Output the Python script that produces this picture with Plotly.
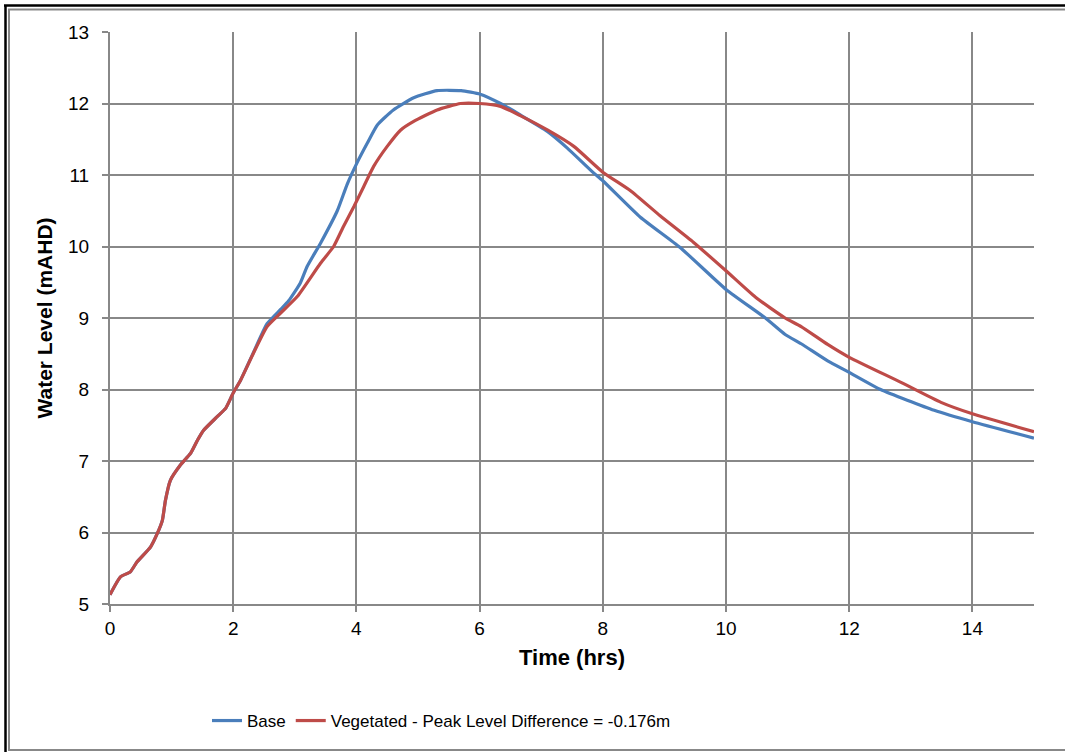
import plotly.graph_objects as go

# ---- data ----
veg_t = [0, 0.17, 0.33, 0.44, 0.66, 0.77, 0.85, 0.90, 0.98, 1.14, 1.31, 1.42, 1.52, 1.74, 1.88,
         2.0, 2.12, 2.33, 2.55, 2.77, 3.04, 3.42, 3.63, 3.79, 3.96, 4.12, 4.28, 4.5, 4.72, 4.93,
         5.31, 5.69, 6.0, 6.34, 6.66, 7.1, 7.53, 8.0, 8.45, 8.93, 9.47, 10.0, 10.48, 10.96,
         11.22, 11.65, 12.0, 12.84, 13.49, 14.0, 15.0]
veg_y = [5.13, 5.38, 5.45, 5.59, 5.80, 5.99, 6.17, 6.45, 6.73, 6.94, 7.11, 7.29, 7.43, 7.62, 7.74,
         7.95, 8.13, 8.51, 8.88, 9.07, 9.30, 9.77, 10.0, 10.28, 10.56, 10.84, 11.12, 11.40, 11.63, 11.75,
         11.91, 12.0, 12.0, 11.96, 11.83, 11.63, 11.40, 11.04, 10.78, 10.43, 10.06, 9.66, 9.29, 9.0,
         8.88, 8.63, 8.45, 8.10, 7.82, 7.66, 7.41]

base_t = [0, 0.17, 0.33, 0.44, 0.66, 0.77, 0.85, 0.90, 0.98, 1.14, 1.31, 1.42, 1.52, 1.74, 1.88,
          2.0, 2.12, 2.33, 2.55, 2.77, 2.9, 3.09, 3.2, 3.42, 3.69, 3.85, 4.01, 4.18, 4.34, 4.6,
          4.93, 5.31, 5.7, 6.01, 6.34, 6.66, 7.1, 7.42, 7.85, 8.0, 8.61, 9.25, 10.0, 10.64, 10.96,
          11.22, 11.65, 12.0, 12.51, 13.38, 14.0, 15.0]
base_y = [5.13, 5.38, 5.45, 5.59, 5.80, 5.99, 6.17, 6.45, 6.73, 6.94, 7.11, 7.29, 7.43, 7.62, 7.74,
          7.95, 8.13, 8.52, 8.92, 9.12, 9.24, 9.49, 9.72, 10.05, 10.50, 10.87, 11.17, 11.45, 11.70, 11.91,
          12.08, 12.18, 12.18, 12.13, 12.0, 11.84, 11.61, 11.38, 11.03, 10.92, 10.41, 9.99, 9.40, 9.0, 8.77,
          8.64, 8.40, 8.24, 8.0, 7.71, 7.55, 7.32]

x_ticks = [0, 2, 4, 6, 8, 10, 12, 14]
y_ticks = [5, 6, 7, 8, 9, 10, 11, 12, 13]

base_name = "Base"
veg_name = "Vegetated - Peak Level Difference = -0.176m"

BLUE = "#4A7EBB"
RED = "#BE4B48"
GRID = "#888888"
FONT = "Liberation Sans, Arial, sans-serif"

W, H = 1065, 752
ML, MR, MT, MB = 110, 31, 32, 148
PW, PH = W - ML - MR, H - MT - MB


def px(x):
    return (x - ML) / PW


def py(y):
    return (H - MB - y) / PH


fig = go.Figure()
fig.add_trace(go.Scatter(x=base_t, y=base_y, mode="lines", name=base_name,
                         line=dict(color=BLUE, width=3.2, shape="spline", smoothing=0.5)))
fig.add_trace(go.Scatter(x=veg_t, y=veg_y, mode="lines", name=veg_name,
                         line=dict(color=RED, width=3.2, shape="spline", smoothing=0.5)))

axis_common = dict(showgrid=True, gridcolor=GRID, gridwidth=2, showline=True, linecolor=GRID,
                   linewidth=2, ticks="outside", ticklen=6, tickwidth=2, tickcolor=GRID,
                   zeroline=False, tickfont=dict(family=FONT, size=19, color="#000000"))

fig.update_xaxes(range=[0, 15], tickvals=x_ticks, ticktext=[str(v) for v in x_ticks],
                 title=dict(text="<b>Time (hrs)</b>", font=dict(family=FONT, size=22, color="#000"),
                            standoff=12),
                 **axis_common)
fig.update_yaxes(range=[5, 13], tickvals=y_ticks, ticktext=[str(v) for v in y_ticks],
                 title=dict(text="<b>Water Level (mAHD)</b>", font=dict(family=FONT, size=21, color="#000"),
                            standoff=10),
                 ticklabelstandoff=9,
                 **axis_common)

shapes = [
    # outer black frame (left, top)
    dict(type="line", xref="paper", yref="paper", x0=px(5.5), x1=px(5.5), y0=py(5), y1=py(752),
         line=dict(color="#000000", width=2.5)),
    dict(type="line", xref="paper", yref="paper", x0=px(4), x1=px(1065), y0=py(5.5), y1=py(5.5),
         line=dict(color="#000000", width=2.5)),
    # inner grey frame (left, top, bottom)
    dict(type="line", xref="paper", yref="paper", x0=px(9), x1=px(9), y0=py(9), y1=py(751),
         line=dict(color=GRID, width=2)),
    dict(type="line", xref="paper", yref="paper", x0=px(8), x1=px(1065), y0=py(9.5), y1=py(9.5),
         line=dict(color=GRID, width=2)),
    dict(type="line", xref="paper", yref="paper", x0=px(8), x1=px(1065), y0=py(750), y1=py(750),
         line=dict(color=GRID, width=2)),
]

fig.update_layout(
    width=W, height=H,
    margin=dict(l=ML, r=MR, t=MT, b=MB),
    paper_bgcolor="#FFFFFF", plot_bgcolor="#FFFFFF",
    font=dict(family=FONT, size=17, color="#000000"),
    showlegend=True,
    legend=dict(orientation="h", x=px(207), xanchor="left", y=py(703), yanchor="top",
                font=dict(family=FONT, size=17, color="#000000"), bgcolor="rgba(0,0,0,0)",
                itemwidth=30, tracegroupgap=0),
    shapes=shapes,
)

fig.write_html("out.html")
